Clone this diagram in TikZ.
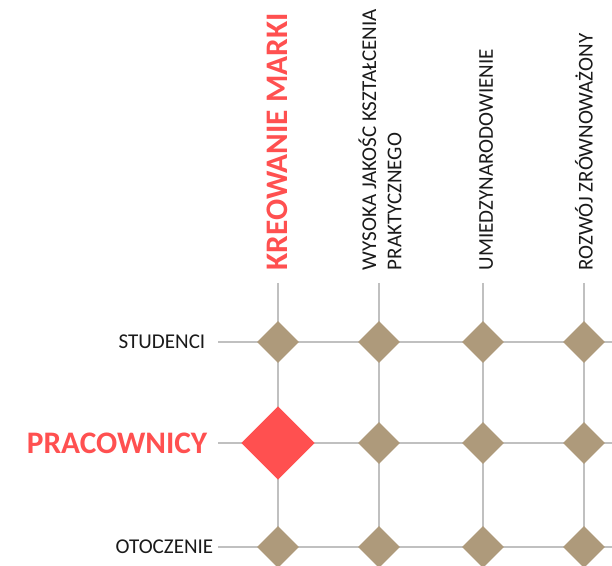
\documentclass[tikz,border=0pt]{standalone}
\usepackage{fontspec}
\setmainfont{Carlito}
\usepackage{tikz}
\usetikzlibrary{shapes.geometric}

\definecolor{gridgray}{RGB}{192,192,192}
\definecolor{tan}{RGB}{174,154,123}
\definecolor{hot}{RGB}{255,80,80}
\definecolor{ink}{RGB}{26,26,26}

\begin{document}
\begin{tikzpicture}[x=0.75pt,y=-0.75pt,
  grid/.style={draw=gridgray,line width=2.2pt},
  dot/.style={diamond,aspect=1,fill=tan,inner sep=0pt,minimum size=31.5pt},
  bigdot/.style={diamond,aspect=1,fill=hot,inner sep=0pt,minimum size=55pt},
  rowlab/.style={anchor=east,text=ink,font=\fontsize{15.8}{18}\selectfont},
  collab/.style={rotate=90,anchor=west,text=ink,align=left,
    font=\fontsize{15.8}{18.8}\selectfont}]
  \useasboundingbox (0,0) rectangle (612,566);

  % Line ends
  \coordinate (sL) at (218,342);
  \coordinate (pL) at (218,443);
  \coordinate (oL) at (218,547);
  \coordinate (sR) at (612,342);
  \coordinate (pR) at (612,443);
  \coordinate (oR) at (612,547);
  \coordinate (k0) at (278,283);
  \coordinate (w0) at (379,283);
  \coordinate (u0) at (483,283);
  \coordinate (r0) at (584,283);
  \coordinate (k9) at (278,566);
  \coordinate (w9) at (379,566);
  \coordinate (u9) at (483,566);
  \coordinate (r9) at (584,566);

  % Grid
  \draw[grid] (sL) -- (sR);
  \draw[grid] (pL) -- (pR);
  \draw[grid] (oL) -- (oR);
  \draw[grid] (k0) -- (k9);
  \draw[grid] (w0) -- (w9);
  \draw[grid] (u0) -- (u9);
  \draw[grid] (r0) -- (r9);

  % Crossings
  \node[dot] (sk) at (278,342) {};
  \node[dot] (sw) at (379,342) {};
  \node[dot] (su) at (483,342) {};
  \node[dot] (sr) at (584,342) {};
  \node[bigdot] (pk) at (278,443) {};
  \node[dot] (pw) at (379,443) {};
  \node[dot] (pu) at (483,443) {};
  \node[dot] (pr) at (584,443) {};
  \node[dot] (ok) at (278,547) {};
  \node[dot] (ow) at (379,547) {};
  \node[dot] (ou) at (483,547) {};
  \node[dot] (or) at (584,547) {};

  % Row labels
  \node[rowlab] (studenci) at (210,342) {STUDENCI};
  \node[rowlab,text=hot,font=\fontsize{23.5}{28}\selectfont\bfseries]
    (pracownicy) at (212,443) {PRACOWNICY};
  \node[rowlab] (otoczenie) at (218,547) {OTOCZENIE};

  % Column labels
  \node[collab,text=hot,font=\fontsize{23.5}{27}\selectfont\bfseries]
    (kreowanie) at (277,275) {KREOWANIE MARKI};
  \node[collab] (wysoka) at (380,275) {WYSOKA JAKOŚC KSZTAŁCENIA\\PRAKTYCZNEGO};
  \node[collab] (umiedz) at (486,275) {UMIEDZYNARODOWIENIE};
  \node[collab] (rozwoj) at (584,275) {ROZWÓJ ZRÓWNOWAŻONY};
\end{tikzpicture}
\end{document}
